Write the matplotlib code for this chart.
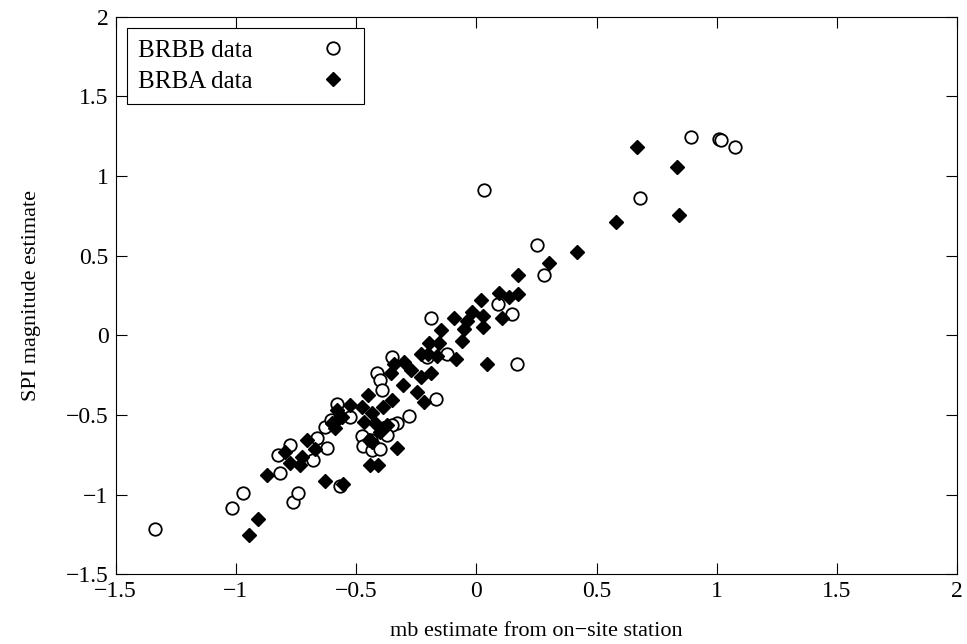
import matplotlib.pyplot as plt

plt.rcParams['font.family'] = ['Liberation Serif', 'DejaVu Serif']

# BRBB data (open circles)
brbb_x = [-1.336, -1.017, -0.971, -0.817, -0.826, -0.776, -0.763, -0.743, -0.680, -0.622,
          -0.664, -0.631, -0.605, -0.581, -0.568, -0.527, -0.349, -0.415, -0.402, -0.394,
          -0.166, -0.278, -0.328, -0.349, -0.373, -0.477, -0.473, -0.436, -0.432, -0.402,
          -0.187, -0.203, -0.120, 0.091, 0.149, 0.170, 0.253, 0.282, 0.033, 0.680,
          0.892, 1.008, 1.017, 1.075]
brbb_y = [-1.214, -1.082, -0.987, -0.862, -0.748, -0.686, -1.044, -0.987, -0.780, -0.704,
          -0.642, -0.572, -0.528, -0.428, -0.943, -0.509, -0.138, -0.233, -0.277, -0.340,
          -0.396, -0.503, -0.547, -0.560, -0.623, -0.629, -0.692, -0.654, -0.717, -0.711,
          0.107, -0.138, -0.119, 0.195, 0.132, -0.182, 0.566, 0.377, 0.912, 0.862,
          1.245, 1.233, 1.226, 1.182]

# BRBA data (filled diamonds)
brba_x = [-0.946, -0.909, -0.871, -0.797, -0.776, -0.726, -0.734, -0.705, -0.672, -0.589,
          -0.560, -0.581, -0.598, -0.589, -0.631, -0.556, -0.527, -0.477, -0.452, -0.432,
          -0.390, -0.349, -0.465, -0.423, -0.390, -0.373, -0.402, -0.432, -0.448, -0.328,
          -0.444, -0.407, -0.344, -0.299, -0.353, -0.270, -0.228, -0.187, -0.303, -0.245,
          -0.216, -0.232, -0.199, -0.162, -0.195, -0.154, -0.083, -0.058, -0.145, -0.050,
          -0.091, -0.037, -0.017, 0.029, 0.029, 0.021, 0.108, 0.095, 0.137, 0.174,
          0.174, 0.046, 0.303, 0.419, 0.581, 0.668, 0.834, 0.842]
brba_y = [-1.252, -1.151, -0.874, -0.730, -0.799, -0.761, -0.811, -0.654, -0.711, -0.541,
          -0.509, -0.465, -0.547, -0.579, -0.912, -0.931, -0.434, -0.447, -0.371, -0.484,
          -0.447, -0.403, -0.541, -0.547, -0.579, -0.560, -0.604, -0.667, -0.654, -0.704,
          -0.811, -0.811, -0.182, -0.164, -0.233, -0.220, -0.258, -0.233, -0.308, -0.358,
          -0.415, -0.119, -0.119, -0.126, -0.050, -0.050, -0.145, -0.038, 0.031, 0.038,
          0.107, 0.088, 0.145, 0.119, 0.050, 0.220, 0.107, 0.264, 0.239, 0.258,
          0.377, -0.182, 0.453, 0.522, 0.711, 1.182, 1.057, 0.755]

ticks = [-1.5, -1, -0.5, 0, 0.5, 1, 1.5, 2]
tick_labels = ['\u22121.5', '\u22121', '\u22120.5', '0', '0.5', '1', '1.5', '2']

fig = plt.figure(figsize=(9.67, 6.44), dpi=100)
ax = fig.add_axes([0.1195, 0.108, 0.8705, 0.866])

ax.plot(brbb_x, brbb_y, 'o', mfc='white', mec='black', mew=1.3, ms=9, ls='none',
        label='BRBB data')
ax.plot(brba_x, brba_y, 'D', mfc='black', mec='black', ms=7.5, ls='none',
        label='BRBA data')

ax.set_xlim(-1.5, 2)
ax.set_ylim(-1.5, 2)
ax.set_xticks(ticks)
ax.set_xticklabels(tick_labels)
ax.set_yticks(ticks)
ax.set_yticklabels(tick_labels)
ax.tick_params(direction='in', length=8, width=0.8, top=True, right=True,
               labelsize=17, pad=5)
for s in ax.spines.values():
    s.set_linewidth(0.8)

ax.set_xlabel('mb estimate from on\u2212site station', fontsize=16, labelpad=14)
ax.set_ylabel('SPI magnitude estimate', fontsize=16, labelpad=18)

leg = ax.legend(loc='upper left', markerfirst=False, fontsize=18, fancybox=False,
                edgecolor='black', framealpha=1, borderaxespad=0.45,
                handletextpad=2.4, borderpad=0.45, labelspacing=0.35,
                handlelength=1.6)
leg.get_frame().set_linewidth(0.8)

plt.savefig('out.png', dpi=100)
